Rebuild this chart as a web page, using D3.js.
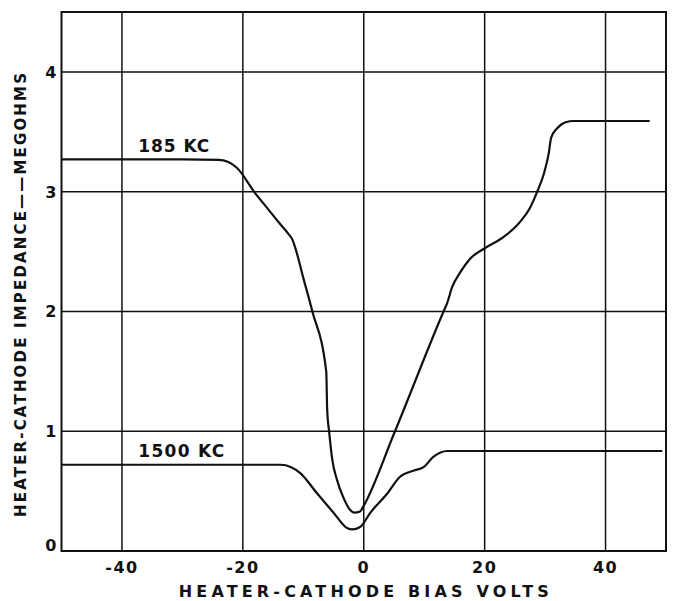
<!DOCTYPE html>
<html>
<head>
<meta charset="utf-8">
<script src="https://cdn.jsdelivr.net/npm/d3@7/dist/d3.min.js"></script>
<style>
  html, body { margin: 0; padding: 0; background: #fff; }
  svg { display: block; }
  text { font-family: "DejaVu Sans", sans-serif; fill: #111; font-weight: bold; }
</style>
</head>
<body>
<svg id="chart" width="674" height="601"></svg>
<script>
// ---- data ----
const xTicks = [-40, -20, 0, 20, 40];
const yTicks = [0, 1, 2, 3, 4];
const xTickLabels = ["-40", "-20", "0", "20", "40"];
const yTickLabels = ["0", "1", "2", "3", "4"];

const kc185X = [-50, -30, -24, -22.5, -21, -18, -16, -14, -12.5, -11.8, -11.2, -10, -8.5, -6.2, -6.05, -5.7, -5.2, -4.4, -3.4, -2.2, -1.6, -0.6, -0.1, 5.05, 13.2, 13.8, 14.6, 16.0, 17.6, 20.1, 23.1, 25.9, 27.6, 28.7, 29.8, 30.6, 31.0, 32.0, 33.4, 34.7, 47.3];
const kc185Y = [3.27, 3.27, 3.265, 3.25, 3.2, 2.99, 2.865, 2.74, 2.65, 2.6, 2.51, 2.28, 2.0, 1.495, 1.18, 0.985, 0.76, 0.59, 0.45, 0.34, 0.32, 0.33, 0.37, 0.985, 2.0, 2.07, 2.2, 2.33, 2.44, 2.53, 2.62, 2.75, 2.875, 3.0, 3.15, 3.32, 3.45, 3.53, 3.58, 3.59, 3.59];

const kc1500X = [-50, -30, -13.8, -12, -10.5, -7.7, -5.0, -2.7, -1.9, -0.6, 1.1, 3.9, 6.0, 8.2, 9.9, 11.5, 13.8, 30, 49.4];
const kc1500Y = [0.72, 0.72, 0.72, 0.70, 0.65, 0.48, 0.32, 0.19, 0.18, 0.2, 0.32, 0.48, 0.62, 0.67, 0.70, 0.785, 0.835, 0.835, 0.835];

const seriesNames = ["185 KC", "1500 KC"];
const labelX = [-37.3, -37.3];
const labelY = [3.33, 0.785];

const xTitle = "HEATER-CATHODE BIAS VOLTS";
const yTitle = "HEATER-CATHODE IMPEDANCE——MEGOHMS";

// ---- scales ----
const svg = d3.select("#chart");
const x = d3.scaleLinear().domain([-50, 50]).range([61.5, 666]);
const y = d3.scaleLinear().domain([0, 4.5]).range([551, 12]);

// grid
const g = svg.append("g");
g.selectAll("line.vx").data(xTicks).enter().append("line")
  .attr("x1", d => x(d)).attr("x2", d => x(d))
  .attr("y1", y(4.5)).attr("y2", y(0))
  .attr("stroke", "#111").attr("stroke-width", 1.5);
g.selectAll("line.hy").data(yTicks.filter(d => d > 0)).enter().append("line")
  .attr("x1", x(-50)).attr("x2", x(50))
  .attr("y1", d => y(d)).attr("y2", d => y(d))
  .attr("stroke", "#111").attr("stroke-width", 1.5);

// frame
g.append("rect")
  .attr("x", x(-50)).attr("y", y(4.5))
  .attr("width", x(50) - x(-50)).attr("height", y(0) - y(4.5))
  .attr("fill", "none").attr("stroke", "#111").attr("stroke-width", 2);

// tick labels
svg.selectAll("text.xt").data(xTicks).enter().append("text")
  .attr("x", d => x(d)).attr("y", y(0) + 22)
  .attr("text-anchor", "middle").attr("font-size", 16)
  .attr("letter-spacing", 1.5)
  .text((d, i) => xTickLabels[i]);

svg.selectAll("text.yt").data(yTicks).enter().append("text")
  .attr("x", x(-50) - 5).attr("y", d => y(d) + (d === 0 ? 0 : 6))
  .attr("text-anchor", "end").attr("font-size", 16)
  .text((d, i) => yTickLabels[i]);

// axis titles
svg.append("text")
  .attr("x", x(0)).attr("y", 597)
  .attr("text-anchor", "middle").attr("font-size", 16)
  .attr("textLength", 370).attr("lengthAdjust", "spacing")
  .text(xTitle);

svg.append("text")
  .attr("transform", "translate(26,295) rotate(-90)")
  .attr("text-anchor", "middle").attr("font-size", 15)
  .attr("textLength", 444).attr("lengthAdjust", "spacing")
  .text(yTitle);

// curves
const line = d3.line()
  .x(d => x(d[0])).y(d => y(d[1]))
  .curve(d3.curveMonotoneX);

const s185 = kc185X.map((v, i) => [v, kc185Y[i]]);
const s1500 = kc1500X.map((v, i) => [v, kc1500Y[i]]);

svg.selectAll("path.curve").data([s185, s1500]).enter().append("path")
  .attr("d", line)
  .attr("fill", "none").attr("stroke", "#111")
  .attr("stroke-width", 2.2).attr("stroke-linejoin", "round");

// curve labels
svg.selectAll("text.lbl").data(seriesNames).enter().append("text")
  .attr("x", (d, i) => x(labelX[i])).attr("y", (d, i) => y(labelY[i]))
  .attr("font-size", 17)
  .attr("textLength", (d, i) => i === 0 ? 71 : 86).attr("lengthAdjust", "spacing")
  .text(d => d);
</script>
</body>
</html>
